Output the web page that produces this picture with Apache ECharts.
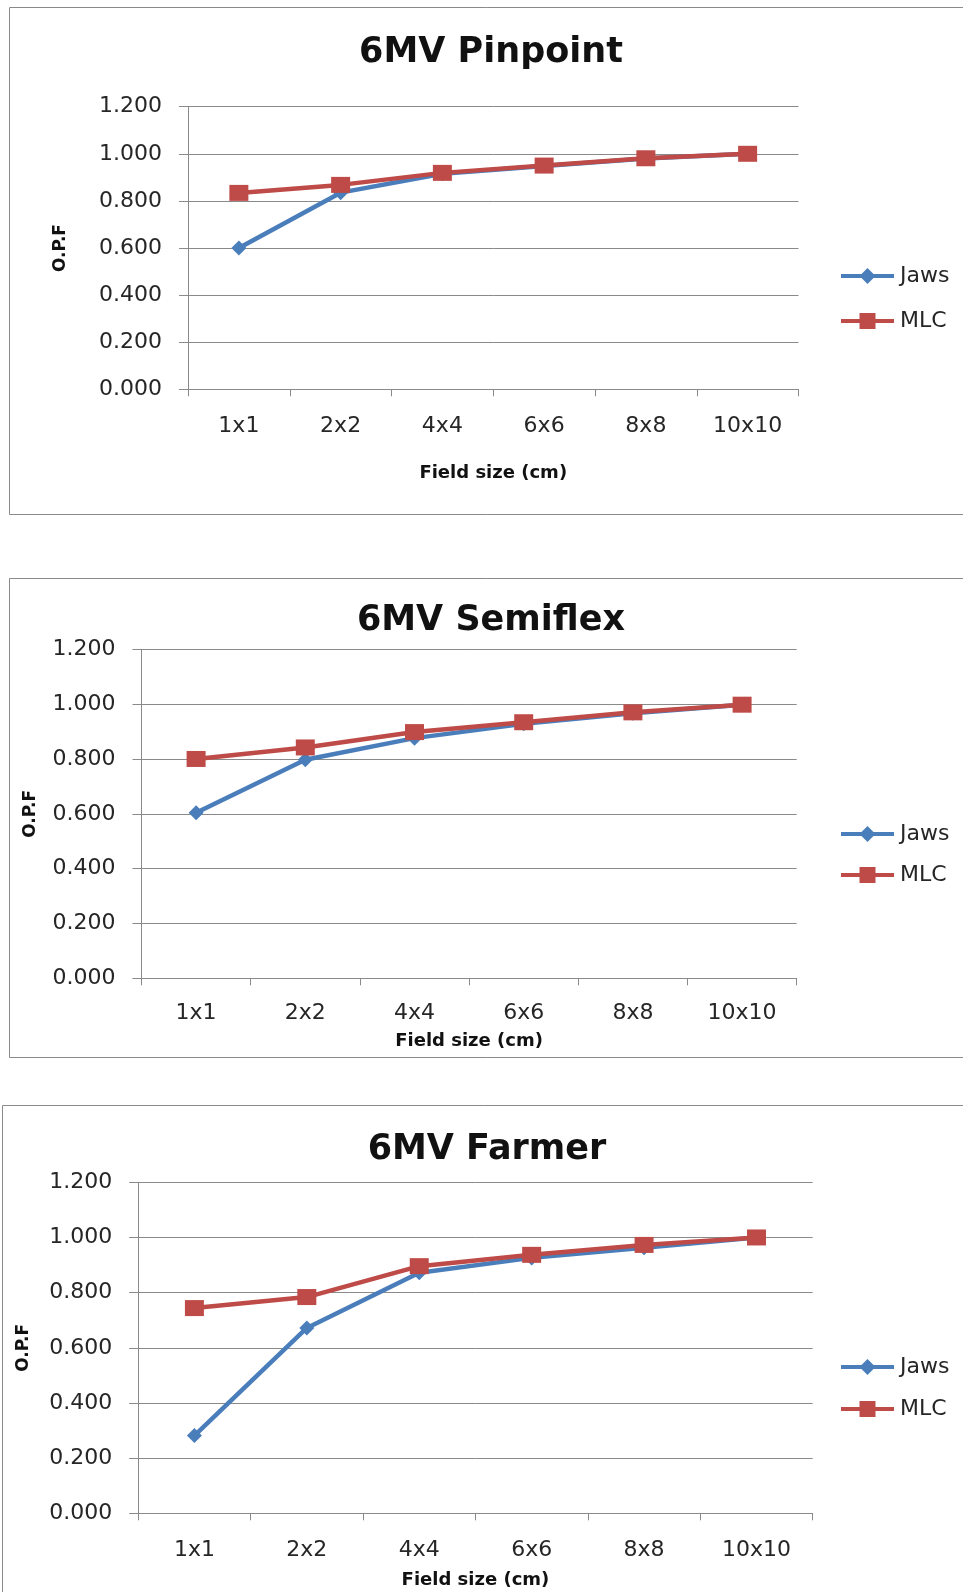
<!DOCTYPE html>
<html>
<head>
<meta charset="utf-8">
<script src="https://cdn.jsdelivr.net/npm/echarts@6/dist/echarts.min.js"></script>
<style>
html,body{margin:0;padding:0;background:#fff;}
#c{width:963px;height:1592px;}
</style>
</head>
<body>
<div id="c"></div>
<script>
var categories = ['1x1', '2x2', '4x4', '6x6', '8x8', '10x10'];
var chartTitles = ['6MV Pinpoint', '6MV Semiflex', '6MV Farmer'];
var seriesNames = ['Jaws', 'MLC'];
var pinpointJaws = [0.600, 0.835, 0.915, 0.948, 0.980, 1.000];
var pinpointMLC = [0.834, 0.868, 0.919, 0.950, 0.981, 1.000];
var semiflexJaws = [0.604, 0.797, 0.876, 0.928, 0.967, 0.998];
var semiflexMLC = [0.800, 0.842, 0.898, 0.934, 0.970, 0.998];
var farmerJaws = [0.282, 0.672, 0.872, 0.926, 0.963, 1.000];
var farmerMLC = [0.744, 0.784, 0.896, 0.937, 0.973, 1.000];
var yMin = 0, yMax = 1.2, yStep = 0.2;
var xAxisTitle = 'Field size (cm)';
var yAxisTitle = 'O.P.F';

var jawsData = [pinpointJaws, semiflexJaws, farmerJaws];
var mlcData = [pinpointMLC, semiflexMLC, farmerMLC];

var FONT = 'DejaVu Sans';
var BLUE = '#4A7EBB';
var RED = '#BE4B48';
var GRAY = '#8a8a8a';
var TEXT = '#262626';

// layout per panel
var panels = [
  {grid:{left:188, top:106.7, width:610.5, height:282.6}, title:{x:491, top:35},
   xName:75, xMargin:26, yName:119, legendTop:265, legendGap:23,
   box:{x:9.5, y:7.5, w:1000, h:507}},
  {grid:{left:141.5, top:649.3, width:655.2, height:329}, title:{x:491, top:603},
   xName:54, xMargin:24, yName:102, legendTop:823, legendGap:19,
   box:{x:9.5, y:578.5, w:1000, h:479}},
  {grid:{left:138.2, top:1182.3, width:674.5, height:331}, title:{x:487, top:1132},
   xName:58, xMargin:26, yName:106, legendTop:1356, legendGap:20,
   box:{x:2.5, y:1105.5, w:1000, h:600}}
];

var option = {
  backgroundColor: '#fff',
  animation: false,
  title: [], grid: [], xAxis: [], yAxis: [], legend: [], series: [],
  graphic: []
};

panels.forEach(function (p, i) {
  option.graphic.push({
    type: 'rect', silent: true, z: -1,
    shape: {x: p.box.x, y: p.box.y, width: p.box.w, height: p.box.h},
    style: {fill: 'none', stroke: GRAY, lineWidth: 1}
  });
  option.title.push({
    text: chartTitles[i], left: p.title.x, top: p.title.top, textAlign: 'center', padding: 0,
    textStyle: {fontFamily: FONT, fontWeight: 'bold', fontSize: 35, lineHeight: 36, color: '#111'}
  });
  option.grid.push({left: p.grid.left, top: p.grid.top, width: p.grid.width, height: p.grid.height, containLabel: false});
  option.xAxis.push({
    type: 'category', gridIndex: i, data: categories, boundaryGap: true,
    name: xAxisTitle, nameLocation: 'middle', nameGap: p.xName,
    nameTextStyle: {fontFamily: FONT, fontWeight: 'bold', fontSize: 18, color: '#111'},
    axisLine: {show: true, lineStyle: {color: GRAY, width: 1}},
    axisTick: {show: true, length: 7, inside: false, lineStyle: {color: GRAY}},
    axisLabel: {fontFamily: FONT, fontSize: 22, color: TEXT, margin: p.xMargin, interval: 0},
    splitLine: {show: false}
  });
  option.yAxis.push({
    type: 'value', gridIndex: i, min: yMin, max: yMax, interval: yStep,
    name: yAxisTitle, nameLocation: 'middle', nameGap: p.yName, nameRotate: 90,
    nameTextStyle: {fontFamily: FONT, fontWeight: 'bold', fontSize: 17, color: '#111'},
    axisLine: {show: true, lineStyle: {color: GRAY, width: 1}},
    axisTick: {show: true, length: 9, inside: false, lineStyle: {color: GRAY}},
    axisLabel: {fontFamily: FONT, fontSize: 22, color: TEXT, margin: 26,
      formatter: function (v) { return v.toFixed(3); }},
    splitLine: {show: true, lineStyle: {color: GRAY, width: 1}}
  });
  option.legend.push({
    data: seriesNames, orient: 'vertical', left: 839, top: p.legendTop, padding: 0,
    itemWidth: 53, itemHeight: 20, itemGap: p.legendGap, selectedMode: false,
    lineStyle: {width: 4},
    textStyle: {fontFamily: FONT, fontSize: 22, color: TEXT, lineHeight: 20, padding: [0,0,0,1]}
  });
  option.series.push({
    name: seriesNames[0], type: 'line', xAxisIndex: i, yAxisIndex: i, data: jawsData[i],
    symbol: 'diamond', symbolSize: 15, z: 2,
    lineStyle: {color: BLUE, width: 4.5}, itemStyle: {color: BLUE}
  });
  option.series.push({
    name: seriesNames[1], type: 'line', xAxisIndex: i, yAxisIndex: i, data: mlcData[i],
    symbol: 'rect', symbolSize: [19, 16], z: 3,
    lineStyle: {color: RED, width: 4.5}, itemStyle: {color: RED}
  });
});

var chart = echarts.init(document.getElementById('c'), null, {renderer: 'canvas'});
chart.setOption(option);
</script>
</body>
</html>
